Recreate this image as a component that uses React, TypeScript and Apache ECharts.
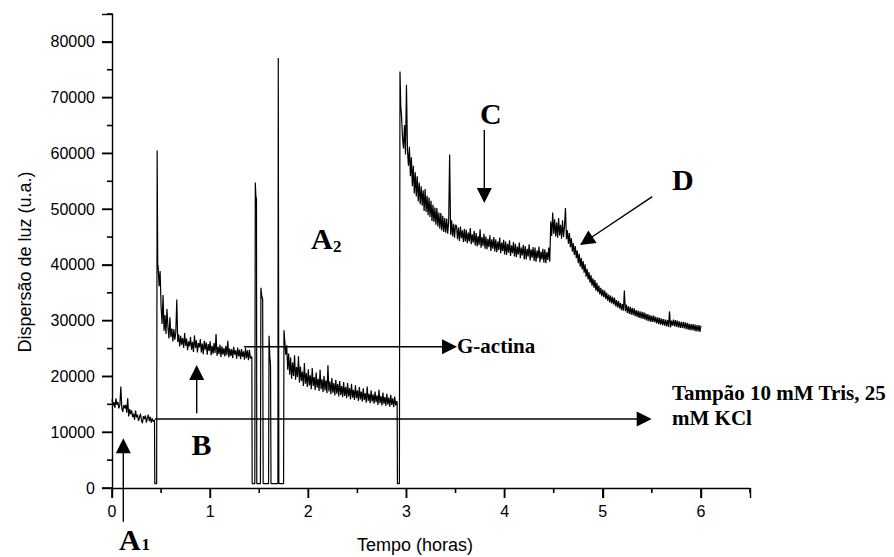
import React, { useEffect, useRef } from "react";
import * as echarts from "echarts";

// Axis ranges and tick values
const xMin = 0;
const xMax = 6.5;
const yMin = 0;
const yMax = 85000;
const xMajorTicks = [0, 1, 2, 3, 4, 5, 6];
const xMinorTicks = [0.5, 1.5, 2.5, 3.5, 4.5, 5.5, 6.5];
const yMajorTicks = [0, 10000, 20000, 30000, 40000, 50000, 60000, 70000, 80000];
const yMinorTicks = [5000, 15000, 25000, 35000, 45000, 55000, 65000, 75000, 85000];

// Segment 1: buffer baseline, t = 0.00 .. 0.42 (step 0.01)
const seg1Start = 0;
const seg1Values = [
  15900, 14760, 15410, 14380, 16080, 14910, 15420, 14270, 14870, 18200,
  14250, 13660, 14890, 14300, 14900, 13490, 16100, 12840, 14160, 13240,
  13930, 12710, 13310, 12230, 13880, 12660, 13120, 12020, 12670, 13320,
  12150, 11610, 12890, 12350, 13000, 11740, 12530, 13160, 11990, 12760,
  11710, 12500, 11900,
];

// Drop and G-actin injection spike
const drop1 = [
  [0.433, 12200], [0.436, 800], [0.455, 800], [0.46, 60500], [0.466, 40000],
];

// Segment 2: G-actin, t = 0.47 .. 1.42 (step 0.01)
const seg2Start = 0.47;
const seg2Values = [
  39800, 36200, 38900, 32500, 29400, 34600, 28200, 31000, 27600, 32100,
  28900, 26800, 30600, 27100, 28600, 26300, 28500, 26600, 27900, 33800,
  26200, 27500, 25400, 27300, 25700, 26900, 25100, 27800, 25500, 26800,
  24700, 26300, 25400, 27100, 24800, 26200, 24400, 27400, 25100, 26500,
  24300, 26000, 25200, 26700, 24300, 25900, 24000, 26400, 24800, 26100,
  23900, 25800, 24600, 26300, 23800, 25500, 24100, 26000, 24200, 27600,
  23700, 25300, 24000, 25700, 23500, 25400, 23900, 25100, 23600, 25500,
  23800, 26400, 23400, 25000, 23700, 24900, 23300, 25300, 23900, 24700,
  23200, 25200, 23600, 24800, 23100, 24900, 23500, 24500, 23000, 25100,
  23300, 24700, 22900, 24800, 23200, 23600,
];

// Sampling interruptions between 1.43 h and 1.75 h
const drop2 = [
  [1.425, 23400], [1.428, 800], [1.455, 800], [1.46, 54800], [1.466, 52300],
  [1.472, 51800], [1.475, 800], [1.512, 800], [1.517, 35900], [1.525, 34500],
  [1.535, 33800], [1.54, 800], [1.595, 800], [1.6, 27300], [1.608, 23500],
  [1.615, 21900], [1.62, 800], [1.69, 800], [1.694, 77100], [1.7, 800],
  [1.748, 800], [1.752, 28300],
];

// Segment 3: t = 1.76 .. 2.90 (step 0.01)
const seg3Start = 1.76;
const seg3Values = [
  26400, 23900, 25600, 21200, 24100, 20300, 23400, 19600, 22500, 20100,
  23800, 19400, 21700, 19900, 23600, 18900, 21800, 19200, 20900, 18300,
  22400, 18700, 20600, 18100, 21300, 18400, 20200, 17700, 21500, 18300,
  19900, 17600, 20700, 18000, 19600, 17400, 21200, 17700, 19500, 17200,
  20100, 17500, 19300, 17000, 22000, 17300, 19100, 16800, 19700, 17100,
  18800, 16600, 19400, 16900, 18700, 16400, 19200, 16700, 18300, 16300,
  19000, 16500, 18100, 16100, 18800, 16400, 17900, 15900, 18700, 16200,
  17600, 15800, 18400, 16100, 17500, 15600, 18100, 15900, 17300, 15500,
  17900, 15800, 17000, 15300, 18200, 15600, 16900, 15200, 17500, 15500,
  16800, 15100, 17300, 15400, 16600, 14900, 17600, 15200, 16500, 14800,
  17100, 15100, 16300, 14700, 16900, 15000, 16200, 14600, 16700, 14900,
  16100, 14500, 16400, 14800, 15600,
];

// Drop and polymerisation jump
const drop3 = [
  [2.905, 15300], [2.908, 800], [2.928, 800], [2.934, 74700], [2.942, 68500],
];

// Segment 4a: t = 2.95 .. 3.50 (step 0.01)
const seg4aStart = 2.95;
const seg4aValues = [
  66700, 62800, 60900, 65100, 59800, 72300, 60700, 57800, 61200, 55900,
  59300, 54100, 57800, 52800, 56600, 52300, 55900, 51400, 54800, 50900,
  54100, 50600, 53400, 49700, 53600, 49500, 52400, 48900, 52100, 48600,
  51500, 47900, 50800, 47700, 50300, 47200, 50200, 46900, 49400, 46500,
  49300, 46200, 48800, 45900, 48400, 45800, 48300, 45600, 47800, 59800,
  45400, 48000, 45100, 47400, 44900, 47200,
];

// Segment 4b: t = 3.51 .. 6.00 (step 0.01)
const seg4bStart = 3.51;
const seg4bValues = [
  47000, 44600, 46700, 44300, 46900, 44800, 46200, 44100, 46500, 44200,
  46300, 43900, 45800, 44200, 46600, 43700, 45500, 44000, 46100, 43500,
  45700, 43300, 45200, 43600, 46400, 43100, 45000, 43400, 45600, 42900,
  45100, 42800, 44700, 43200, 45300, 42500, 44600, 42900, 45000, 42400,
  44600, 42300, 44200, 42700, 44900, 42100, 44000, 42500, 44500, 41900,
  44200, 41800, 43800, 42200, 44400, 41600, 43500, 42100, 44100, 41500,
  43800, 41400, 43300, 41900, 44000, 41200, 43100, 41700, 43600, 41000,
  43400, 41000, 42900, 41500, 43700, 40800, 42800, 41300, 43200, 40700,
  43100, 40600, 42600, 41200, 43300, 40500, 42400, 41000, 42900, 40400,
  42800, 40300, 42300, 40900, 43100, 40600, 47800, 45200, 49400, 45600,
  48200, 45100, 47600, 44900, 48400, 45300, 47200, 44700, 48000, 45000,
  46900, 50200, 44600, 46200, 43800, 45700, 43200, 44800, 42400, 43900,
  41800, 43400, 41200, 42600, 40300, 42000, 39700, 41300, 39200, 40700,
  38600, 40100, 37900, 39300, 37400, 38700, 36800, 38200, 36300, 37600,
  35900, 37300, 35400, 36800, 35100, 36300, 34700, 35900, 34400, 35600,
  34200, 35400, 33900, 35000, 33600, 34700, 33300, 34500, 33100, 34300,
  32900, 34100, 32600, 33700, 32400, 33500, 32200, 33200, 31900, 33000,
  31800, 35400, 31700, 32900, 31400, 32600, 31200, 32500, 31100, 32300,
  31000, 32200, 30800, 31900, 30700, 31800, 30500, 31700, 30400, 31600,
  30300, 31500, 30200, 31300, 30000, 31200, 29900, 31000, 29800, 30900,
  29800, 30900, 29700, 30700, 29500, 30600, 29400, 30500, 29300, 30400,
  29200, 30300, 29100, 30200, 29000, 30100, 28900, 31700, 28800, 30000,
  29100, 30200, 29000, 30100, 28900, 30000, 28800, 29900, 28700, 29800,
  28700, 29800, 28600, 29700, 28500, 29600, 28400, 29500, 28300, 29400,
  28300, 29400, 28200, 29300, 28100, 29200, 28100, 29200, 28000, 29100,
];

const SERIF = "'Liberation Serif', 'Times New Roman', serif";
const SANS = "'Liberation Sans', Arial, sans-serif";

const W = 894;
const H = 557;
const GRID = { left: 112, right: 144, top: 14, bottom: 69 };

function sampled(t0: number, dt: number, vals: number[]) {
  return vals.map((v, i) => [Math.round((t0 + i * dt) * 1000) / 1000, v]);
}

function arrow(x1: number, y1: number, x2: number, y2: number, head = 15, half = 7.5) {
  const dx = x2 - x1;
  const dy = y2 - y1;
  const len = Math.sqrt(dx * dx + dy * dy);
  const ux = dx / len;
  const uy = dy / len;
  const bx = x2 - ux * head;
  const by = y2 - uy * head;
  const px = -uy * half;
  const py = ux * half;
  return [
    {
      type: "line",
      shape: { x1, y1, x2: bx + ux * 2, y2: by + uy * 2 },
      style: { stroke: "#000", lineWidth: 1.4 },
      silent: true,
    },
    {
      type: "polygon",
      shape: { points: [[x2, y2], [bx + px, by + py], [bx - px, by - py]] },
      style: { fill: "#000" },
      silent: true,
    },
  ];
}

function label(text: string, x: number, y: number, size: number, align = "left") {
  return {
    type: "text",
    x,
    y,
    silent: true,
    style: {
      text,
      fill: "#000",
      font: `bold ${size}px ${SERIF}`,
      align,
      verticalAlign: "middle",
    },
  };
}

export default function App() {
  const ref = useRef<HTMLDivElement>(null);

  useEffect(() => {
    if (!ref.current) return;
    const chart = echarts.init(ref.current, undefined, { renderer: "svg" });

    const data = [
      ...sampled(seg1Start, 0.01, seg1Values),
      ...drop1,
      ...sampled(seg2Start, 0.01, seg2Values),
      ...drop2,
      ...sampled(seg3Start, 0.01, seg3Values),
      ...drop3,
      ...sampled(seg4aStart, 0.01, seg4aValues),
      ...sampled(seg4bStart, 0.01, seg4bValues),
    ];

    // Axis tick marks as filled rectangles (linear mapping of the grid's value range)
    const plotL = GRID.left;
    const plotR = W - GRID.right;
    const plotT = GRID.top;
    const plotB = H - GRID.bottom;
    const xPx = (v: number) => plotL + ((v - xMin) / (xMax - xMin)) * (plotR - plotL);
    const yPx = (v: number) => plotB - ((v - yMin) / (yMax - yMin)) * (plotB - plotT);
    const tw = 1.6;
    const rect = (x: number, y: number, width: number, height: number) => ({
      type: "rect",
      silent: true,
      shape: { x, y, width, height },
      style: { fill: "#000" },
    });
    const ticks: any[] = [
      ...xMajorTicks.map((v) => rect(xPx(v) - tw / 2, plotB, tw, 10)),
      ...xMinorTicks.map((v) => rect(xPx(v) - tw / 2, plotB, tw, 5)),
      ...yMajorTicks.map((v) => rect(plotL - 10, yPx(v) - tw / 2, 10, tw)),
      ...yMinorTicks.map((v) => rect(plotL - 5, yPx(v) - tw / 2, 5, tw)),
    ];

    const graphics: any[] = [
      ...ticks,
      {
        type: "text",
        x: 25,
        y: 262,
        rotation: Math.PI / 2,
        silent: true,
        style: {
          text: "Dispersão de luz (u.a.)",
          fill: "#000",
          font: `18px ${SANS}`,
          align: "center",
          verticalAlign: "middle",
        },
      },
      {
        type: "text",
        x: 357,
        y: 545,
        silent: true,
        style: {
          text: "Tempo (horas)",
          fill: "#000",
          font: `18px ${SANS}`,
          align: "left",
          verticalAlign: "middle",
        },
      },
      // Arrows
      ...arrow(123.3, 521.7, 123.3, 438.3),
      ...arrow(196.7, 413.3, 196.7, 365),
      ...arrow(484.3, 130, 484.3, 203),
      ...arrow(652.3, 196.7, 580, 245),
      ...arrow(244, 346.7, 457, 346.7),
      ...arrow(155, 419, 651.7, 419),
      // Labels
      label("A", 119, 539, 30),
      label("1", 141.5, 544, 17),
      label("A", 311, 238, 30),
      label("2", 333, 246, 17),
      label("B", 191.5, 444, 30),
      label("C", 480, 113, 30),
      label("D", 672, 179, 30),
      label("G-actina", 457, 345.5, 21),
      label("Tampão 10 mM Tris, 25", 672, 393, 21),
      label("mM KCl", 672, 417.5, 21),
    ];

    chart.setOption({
      animation: false,
      backgroundColor: "#fff",
      grid: {
        ...GRID,
        containLabel: false,
        outerBoundsMode: "none",
      },
      xAxis: {
        type: "value",
        min: xMin,
        max: xMax,
        interval: 1,
        position: "bottom",
        axisLine: { show: true, onZero: false, lineStyle: { color: "#000", width: 1.4 } },
        axisTick: { show: true, inside: false, length: 10, lineStyle: { color: "#000", width: 1.4 } },
        axisLabel: {
          color: "#000",
          fontSize: 16,
          fontFamily: SANS,
          margin: 15,
          formatter: (v: number) => (xMajorTicks.includes(v) ? String(v) : ""),
        },
        splitLine: { show: false },
      },
      yAxis: {
        type: "value",
        min: yMin,
        max: yMax,
        interval: 10000,
        position: "left",
        axisLine: { show: true, onZero: false, lineStyle: { color: "#000", width: 1.4 } },
        axisTick: { show: true, inside: false, length: 10, lineStyle: { color: "#000", width: 1.4 } },
        axisLabel: {
          color: "#000",
          fontSize: 16,
          fontFamily: SANS,
          margin: 17,
          formatter: (v: number) => (yMajorTicks.includes(v) ? String(v) : ""),
        },
        splitLine: { show: false },
      },
      series: [
        {
          type: "line",
          data,
          showSymbol: false,
          symbol: "none",
          lineStyle: { color: "#000", width: 1.2 },
          silent: true,
        },
      ],
      graphic: graphics,
    });

    return () => {
      chart.dispose();
    };
  }, []);

  return (
    <div
      ref={ref}
      style={{ position: "fixed", left: 0, top: 0, width: W, height: H, background: "#fff" }}
    />
  );
}
